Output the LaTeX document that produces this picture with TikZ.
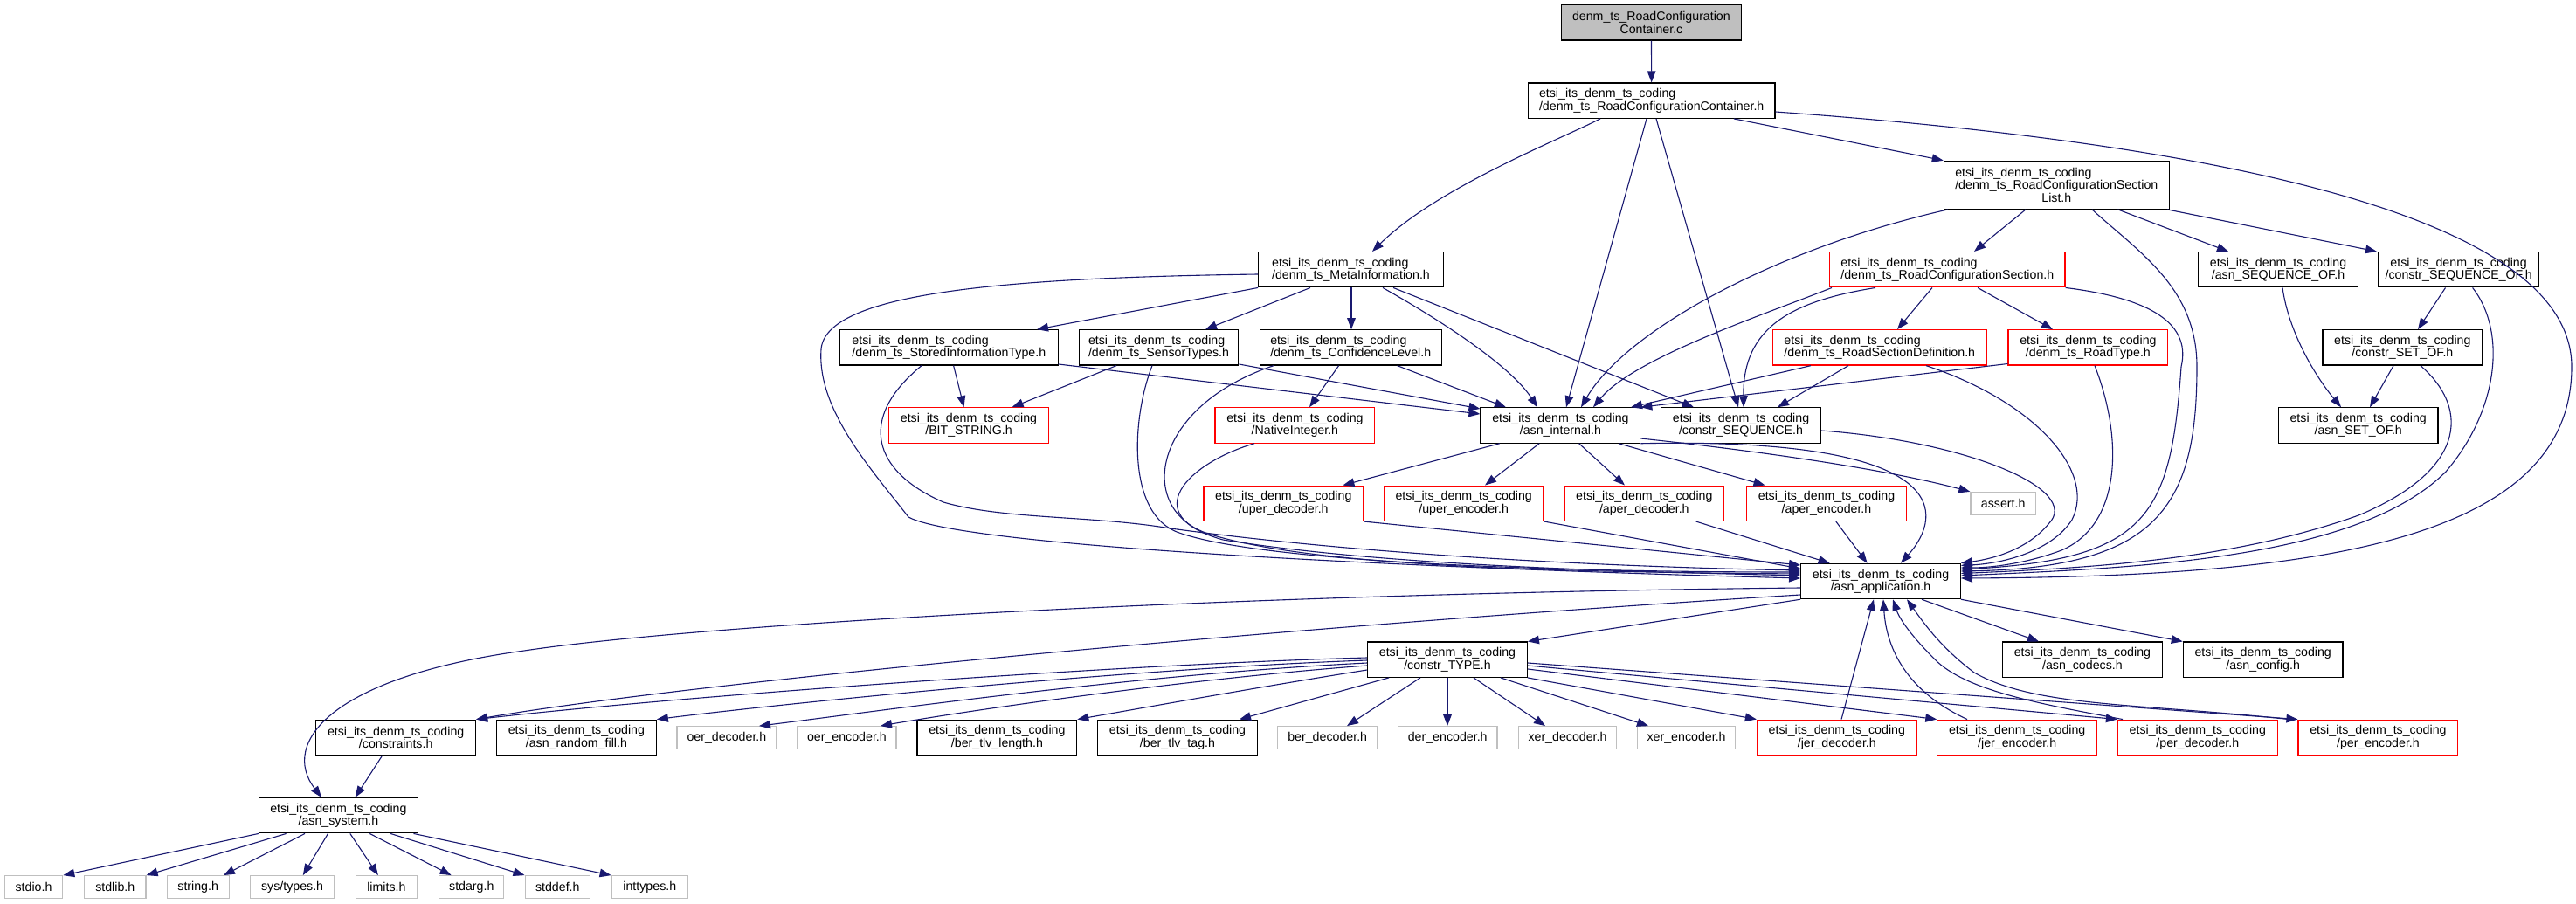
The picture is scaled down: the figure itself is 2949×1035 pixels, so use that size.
\documentclass[tikz,border=0pt]{standalone}
\usepackage{fontspec}
\setmainfont{Liberation Sans}
\usetikzlibrary{arrows.meta}
\definecolor{edgec}{HTML}{191970}
\definecolor{grayb}{HTML}{BFBFBF}
\newcommand\etsiN{etsi\_its\_denm\_ts\_coding}
\begin{document}
\begin{tikzpicture}[x=1pt,y=-1pt,
  nbox/.style={draw=black, fill=white, line width=1.2pt, minimum width=182.7pt, minimum height=40.3pt, inner xsep=8pt, inner ysep=0pt, align=center, font=\fontsize{14.2}{14.3}\selectfont},
  rbox/.style={nbox, draw=red},
  sbox/.style={nbox, draw=grayb, minimum height=25.6pt, minimum width=10pt},
  lbox/.style={align=left},
  edg/.style={draw=edgec, line width=1.1pt, -{Triangle[length=13pt,width=9.6pt]}}]
\useasboundingbox (0,0) rectangle (2949,1035);
\fill[white] (0,0) rectangle (2949,1035);

% nodes
\node[nbox,fill=grayb,minimum width=205.7pt] (c) at (1890.4,25.9) {denm\_ts\_RoadConfiguration\\Container.c};
\node[nbox,lbox,minimum width=282.7pt] (rcc) at (1890.7,115.2) {\etsiN\\/denm\_ts\_RoadConfigurationContainer.h};
\node[nbox,minimum width=258pt,minimum height=55pt] (rcsl) at (2354.3,211.8) {\rlap{\etsiN}\phantom{/denm\_ts\_RoadConfigurationSection}\\/denm\_ts\_RoadConfigurationSection\\List.h};
\node[nbox,lbox,minimum width=211.5pt] (meta) at (1546.5,308.7) {\etsiN\\/denm\_ts\_MetaInformation.h};
\node[rbox,lbox,minimum width=269.3pt] (rcs) at (2229.3,308.7) {\etsiN\\/denm\_ts\_RoadConfigurationSection.h};
\node[nbox] (seqof) at (2608,308.7) {\etsiN\\/asn\_SEQUENCE\_OF.h};
\node[nbox] (cseqof) at (2814.6,308.7) {\etsiN\\/constr\_SEQUENCE\_OF.h};
\node[nbox,lbox,minimum width=249.6pt] (sit) at (1086.3,397.9) {\etsiN\\/denm\_ts\_StoredInformationType.h};
\node[nbox,lbox] (sens) at (1326.5,397.9) {\etsiN\\/denm\_ts\_SensorTypes.h};
\node[nbox,lbox,minimum width=208.2pt] (conf) at (1546.2,397.9) {\etsiN\\/denm\_ts\_ConfidenceLevel.h};
\node[rbox,lbox,minimum width=245.4pt] (rsd) at (2151.8,397.9) {\etsiN\\/denm\_ts\_RoadSectionDefinition.h};
\node[rbox] (rtype) at (2390.4,397.9) {\etsiN\\/denm\_ts\_RoadType.h};
\node[nbox] (csetof) at (2750.3,397.9) {\etsiN\\/constr\_SET\_OF.h};
\node[rbox] (bits) at (1109,487) {\etsiN\\/BIT\_STRING.h};
\node[rbox] (nint) at (1482.4,487) {\etsiN\\/NativeInteger.h};
\node[nbox] (ai) at (1786.4,487) {\etsiN\\/asn\_internal.h};
\node[nbox] (cseq) at (1993,487) {\etsiN\\/constr\_SEQUENCE.h};
\node[nbox] (asetof) at (2699.7,487) {\etsiN\\/asn\_SET\_OF.h};
\node[rbox] (ud) at (1469.3,576.3) {\etsiN\\/uper\_decoder.h};
\node[rbox] (ue) at (1675.7,576.3) {\etsiN\\/uper\_encoder.h};
\node[rbox] (ad) at (1882.3,576.3) {\etsiN\\/aper\_decoder.h};
\node[rbox] (ae) at (2091,576.3) {\etsiN\\/aper\_encoder.h};
\node[sbox,minimum width=74.5pt] (assert) at (2293.2,576.3) {assert.h};
\node[nbox] (aa) at (2153,665.5) {\etsiN\\/asn\_application.h};
\node[nbox] (ctype) at (1657,755.2) {\etsiN\\/constr\_TYPE.h};
\node[nbox] (codecs) at (2383.9,755.2) {\etsiN\\/asn\_codecs.h};
\node[nbox] (config) at (2590.7,755.2) {\etsiN\\/asn\_config.h};
\node[nbox] (cons) at (453.2,844.3) {\etsiN\\/constraints.h};
\node[nbox] (rfill) at (659.9,844.3) {\etsiN\\/asn\_random\_fill.h};
\node[sbox,minimum width=113.9pt] (oerd) at (831.9,844.5) {oer\_decoder.h};
\node[sbox,minimum width=113.3pt] (oere) at (969.4,844.5) {oer\_encoder.h};
\node[nbox] (btl) at (1141.4,844.3) {\etsiN\\/ber\_tlv\_length.h};
\node[nbox] (btt) at (1348,844.3) {\etsiN\\/ber\_tlv\_tag.h};
\node[sbox,minimum width=113.9pt] (berd) at (1519.7,844.5) {ber\_decoder.h};
\node[sbox,minimum width=113.4pt] (dere) at (1657.2,844.5) {der\_encoder.h};
\node[sbox,minimum width=112.4pt] (xerd) at (1794.5,844.5) {xer\_decoder.h};
\node[sbox,minimum width=111.9pt] (xere) at (1930.6,844.5) {xer\_encoder.h};
\node[rbox] (jerd) at (2102.8,844.3) {\etsiN\\/jer\_decoder.h};
\node[rbox] (jere) at (2309.2,844.3) {\etsiN\\/jer\_encoder.h};
\node[rbox] (perd) at (2515.8,844.3) {\etsiN\\/per\_decoder.h};
\node[rbox] (pere) at (2722.4,844.3) {\etsiN\\/per\_encoder.h};
\node[nbox,minimum width=181.8pt] (sys) at (387.4,933.7) {\etsiN\\/asn\_system.h};
\node[sbox,minimum width=66.4pt] (stdio) at (38.5,1015.5) {stdio.h};
\node[sbox,minimum width=70.3pt] (stdlib) at (131.8,1015.5) {stdlib.h};
\node[sbox,minimum width=70.8pt] (string) at (226.7,1015.5) {string.h};
\node[sbox,minimum width=96.1pt] (systypes) at (334.6,1015.5) {sys/types.h};
\node[sbox,minimum width=69.8pt] (limits) at (442.4,1015.5) {limits.h};
\node[sbox,minimum width=74.1pt] (stdarg) at (539.8,1015.5) {stdarg.h};
\node[sbox,minimum width=74.2pt] (stddef) at (638.3,1015.5) {stddef.h};
\node[sbox,minimum width=87.2pt] (inttypes) at (743.8,1015.5) {inttypes.h};

% edges from top
\draw[edg] (c) -- (rcc);
\draw[edg] (rcc.south -| 1832,0) .. controls (1785,160) and (1645,215) .. (meta.north -| 1571,0);
\draw[edg] (rcc.south -| 1885,0) -- (ai.north -| 1793,0);
\draw[edg] (rcc.south -| 1896,0) -- (cseq.north -| 1990,0);
\draw[edg] (rcc.south -| 1985,0) -- (rcsl.north west);
\draw[edg] (rcc.east |- 0,128) .. controls (2550,165) and (2944,250) .. (2944,420) .. controls (2944,620) and (2650,660) .. (aa.east |- 0,662);

% RoadConfigurationSectionList
\draw[edg] (rcsl.south -| 2319,0) -- (rcs.north -| 2260,0);
\draw[edg] (rcsl.south -| 2424.5,0) -- (seqof.north -| 2551,0);
\draw[edg] (rcsl.south -| 2481,0) -- (cseqof.north -| 2721,0);
\draw[edg] (rcsl.south -| 2230,0) .. controls (2030,285) and (1860,380) .. (ai.north -| 1810,0);
\draw[edg] (rcsl.south -| 2395,0) .. controls (2450,290) and (2515,330) .. (2515,420) .. controls (2515,580) and (2470,650) .. (aa.east |- 0,654);

% RoadConfigurationSection
\draw[edg] (rcs.south -| 2097,0) .. controls (2020,360) and (1870,410) .. (ai.north -| 1824,0);
\draw[edg] (rcs.south -| 2147,0) .. controls (2050,345) and (1995,375) .. (cseq.north -| 1996,0);
\draw[edg] (rcs.south -| 2212,0) -- (rsd.north -| 2172,0);
\draw[edg] (rcs.south -| 2264,0) -- (rtype.north -| 2350,0);
\draw[edg] (rcs.south east) .. controls (2450,340) and (2510,365) .. (2497,420) .. controls (2485,590) and (2460,640) .. (aa.east |- 0,652);

% SEQUENCE_OF / SET_OF
\draw[edg] (seqof.south -| 2613,0) .. controls (2620,380) and (2650,430) .. (asetof.north -| 2680,0);
\draw[edg] (cseqof.south -| 2799.5,0) -- (csetof.north -| 2768,0);
\draw[edg] (cseqof.south -| 2830.6,0) .. controls (2870,380) and (2860,470) .. (2800,540) .. controls (2700,640) and (2450,650) .. (aa.east |- 0,659);
\draw[edg] (csetof.south -| 2740,0) -- (asetof.north -| 2713,0);
\draw[edg] (csetof.south -| 2771,0) .. controls (2830,470) and (2820,540) .. (2700,590) .. controls (2560,640) and (2400,650) .. (aa.east |- 0,656.5);

% MetaInformation
\draw[edg] (meta.south west) -- (sit.north -| 1187,0);
\draw[edg] (meta.south -| 1500,0) -- (sens.north -| 1380,0);
\draw[edg] (meta.south -| 1547,0) -- (conf.north -| 1547,0);
\draw[edg] (meta.south -| 1583,0) .. controls (1655,370) and (1730,420) .. (ai.north -| 1760,0);
\draw[edg] (meta.south -| 1595,0) -- (cseq.north -| 1939,0);
\draw[edg] (meta.west |- 0,314) .. controls (1150,318) and (945,335) .. (940,400) .. controls (935,470) and (1000,540) .. (1040,592) .. controls (1100,625) and (1600,650) .. (aa.west |- 0,662);

% StoredInformationType
\draw[edg] (sit.south -| 1091.6,0) -- (bits.north -| 1103.5,0);
\draw[edg] (sit.east |- 0,417) -- (ai.west |- 0,474);
\draw[edg] (sit.south -| 1055,0) .. controls (980,480) and (1000,540) .. (1080,575) .. controls (1150,595) and (1250,590) .. (1340,605) .. controls (1600,640) and (1900,650) .. (aa.west |- 0,653);

% SensorTypes
\draw[edg] (sens.south -| 1278,0) -- (bits.north -| 1158.5,0);
\draw[edg] (sens.east |- 0,417) -- (ai.west |- 0,468);
\draw[edg] (sens.south -| 1319,0) .. controls (1295,480) and (1290,590) .. (1350,610) .. controls (1450,645) and (1800,655) .. (aa.west |- 0,655);

% ConfidenceLevel
\draw[edg] (conf.south -| 1532.6,0) -- (nint.north -| 1499,0);
\draw[edg] (conf.south -| 1599.6,0) -- (ai.north -| 1724,0);
\draw[edg] (conf.south -| 1458,0) .. controls (1320,465) and (1300,580) .. (1380,610) .. controls (1500,650) and (1800,655) .. (aa.west |- 0,657);

% NativeInteger
\draw[edg] (nint.south -| 1436,0) .. controls (1360,530) and (1300,590) .. (1400,618) .. controls (1600,650) and (1900,655) .. (aa.west |- 0,659);

% uper / aper
\draw[edg] (ud.south east) -- (aa.west |- 0,647);
\draw[edg] (ue.south east) -- (aa.west |- 0,651);
\draw[edg] (ad.south -| 1941.6,0) -- (aa.north -| 2094.6,0);
\draw[edg] (ae.south -| 2101.8,0) -- (aa.north -| 2137.6,0);

% asn_internal
\draw[edg] (ai.south -| 1716.8,0) -- (ud.north -| 1537.4,0);
\draw[edg] (ai.south -| 1762.2,0) -- (ue.north -| 1700,0);
\draw[edg] (ai.south -| 1807.6,0) -- (ad.north -| 1860,0);
\draw[edg] (ai.south -| 1853,0) -- (ae.north -| 2020.5,0);
\draw[edg] (ai.south east) .. controls (2240,500) and (2225,590) .. (aa.north -| 2176,0);
\draw[edg] (ai.east |- 0,502) .. controls (2000,515) and (2150,535) .. (assert.north west);

% constr_SEQUENCE
\draw[edg] (cseq.east |- 0,493) .. controls (2250,505) and (2385,560) .. (2345,600) .. controls (2320,630) and (2280,640) .. (aa.north east);

% RoadSectionDefinition
\draw[edg] (rsd.south -| 2073,0) -- (ai.north -| 1867,0);
\draw[edg] (rsd.south -| 2116,0) -- (cseq.north -| 2035,0);
\draw[edg] (rsd.south -| 2205,0) .. controls (2330,460) and (2400,540) .. (2372,595) .. controls (2350,630) and (2295,645) .. (aa.east |- 0,647.5);

% RoadType
\draw[edg] (rtype.west |- 0,416.5) -- (ai.north east);
\draw[edg] (rtype.south -| 2398,0) .. controls (2430,500) and (2430,600) .. (2360,630) .. controls (2320,645) and (2280,650) .. (aa.east |- 0,650);

% asn_application
\draw[edg] (aa.west |- 0,673) .. controls (1400,680) and (800,715) .. (600,745) .. controls (380,775) and (320,850) .. (sys.north -| 368,0);
\draw[edg] (aa.south west) -- (ctype.north east);
\draw[edg] (aa.west |- 0,681) .. controls (1500,715) and (800,780) .. (cons.north east);
\draw[edg] (aa.south -| 2200,0) -- (codecs.north -| 2334,0);
\draw[edg] (aa.south east) -- (config.north west);

% back edges to asn_application
\draw[edg] (jerd.north -| 2108,0) -- (aa.south -| 2145,0);
\draw[edg] (jere.north -| 2252,0) .. controls (2190,795) and (2160,750) .. (aa.south -| 2156,0);
\draw[edg] (perd.north -| 2430,0) .. controls (2330,805) and (2250,790) .. (2215,755) .. controls (2190,730) and (2175,710) .. (aa.south -| 2167,0);
\draw[edg] (pere.north -| 2620,0) .. controls (2450,805) and (2330,810) .. (2260,770) .. controls (2220,740) and (2200,710) .. (aa.south -| 2183,0);

% constr_TYPE
\draw[edg] (ctype.west |- 0,753) .. controls (1300,760) and (800,795) .. (cons.north east);
\draw[edg] (ctype.west |- 0,756) .. controls (1300,765) and (900,805) .. (rfill.north east);
\draw[edg] (ctype.west |- 0,759) .. controls (1300,772) and (1000,815) .. (oerd.north -| 869,0);
\draw[edg] (ctype.west |- 0,762) .. controls (1350,778) and (1100,815) .. (oere.north -| 1008,0);
\draw[edg] (ctype.west |- 0,767) .. controls (1450,785) and (1300,812) .. (btl.north east);
\draw[edg] (ctype.south -| 1590,0) -- (btt.north -| 1419,0);
\draw[edg] (ctype.south -| 1626,0) -- (berd.north -| 1542,0);
\draw[edg] (ctype.south -| 1657,0) -- (dere.north -| 1657,0);
\draw[edg] (ctype.south -| 1687,0) -- (xerd.north -| 1769,0);
\draw[edg] (ctype.south -| 1718,0) -- (xere.north -| 1887,0);
\draw[edg] (ctype.south east) -- (jerd.north west);
\draw[edg] (ctype.east |- 0,766) -- (jere.north west);
\draw[edg] (ctype.east |- 0,762) -- (perd.north west);
\draw[edg] (ctype.east |- 0,759) -- (pere.north west);

% constraints / asn_system
\draw[edg] (cons.south -| 437.6,0) -- (sys.north -| 406.6,0);
\draw[edg] (sys.south west) -- (stdio.north east);
\draw[edg] (sys.south -| 327.6,0) -- (stdlib.north east);
\draw[edg] (sys.south -| 349,0) -- (string.north -| 255.9,0);
\draw[edg] (sys.south -| 375.5,0) -- (systypes.north -| 346.8,0);
\draw[edg] (sys.south -| 400.8,0) -- (limits.north -| 432.9,0);
\draw[edg] (sys.south -| 423.3,0) -- (stdarg.north -| 516.6,0);
\draw[edg] (sys.south -| 447.2,0) -- (stddef.north west);
\draw[edg] (sys.south -| 473.5,0) -- (inttypes.north west);
\end{tikzpicture}
\end{document}
